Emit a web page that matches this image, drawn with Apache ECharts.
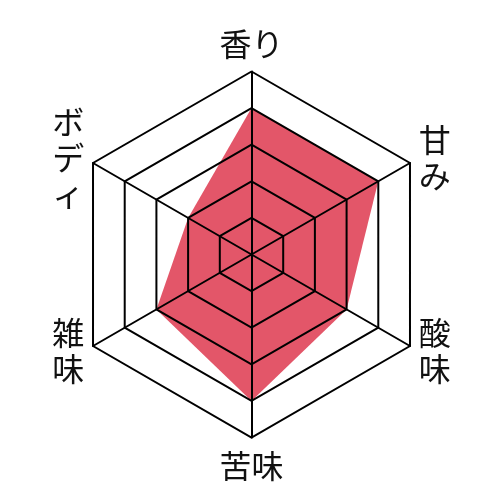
<!DOCTYPE html>
<html>
<head>
<meta charset="utf-8">
<script src="https://cdn.jsdelivr.net/npm/echarts@6/dist/echarts.min.js"></script>
<style>
html, body { margin: 0; padding: 0; background: #fff; }
#chart { width: 500px; height: 500px; }
</style>
</head>
<body>
<div id="chart"></div>
<script>
// 軸は上から反時計回り
var categories = ['香り', 'ボディ', '雑味', '苦味', '酸味', '甘み'];
var scores = [4, 2, 3, 4, 3, 4];
var maxScore = 5;
var horizontalNames = ['香り', '苦味'];

var myChart = echarts.init(document.getElementById('chart'));

var indicators = categories.map(function (c) {
    return { name: c, min: 0, max: maxScore };
});

var option = {
    animation: false,
    radar: {
        z: 5,
        center: ['50.3%', '50.9%'],
        radius: 183,
        startAngle: 90,
        splitNumber: 5,
        shape: 'polygon',
        indicator: indicators,
        nameGap: 10,
        axisName: {
            color: '#111',
            fontSize: 32,
            lineHeight: 36,
            fontFamily: 'Noto Sans CJK JP',
            formatter: function (name) {
                // 左右の項目は縦書き
                if (horizontalNames.indexOf(name) >= 0) return name;
                return name.split('').join('\n');
            }
        },
        axisLine: { lineStyle: { color: '#000', width: 2 } },
        splitLine: { lineStyle: { color: '#000', width: 2 } },
        splitArea: { show: false },
        axisTick: { show: false },
        axisLabel: { show: false }
    },
    series: [
        {
            type: 'radar',
            z: 1,
            symbol: 'none',
            lineStyle: { width: 0 },
            areaStyle: { color: '#e35669', opacity: 1 },
            data: [{ value: scores, name: 'score' }]
        }
    ]
};

myChart.setOption(option, true);
</script>
</body>
</html>
